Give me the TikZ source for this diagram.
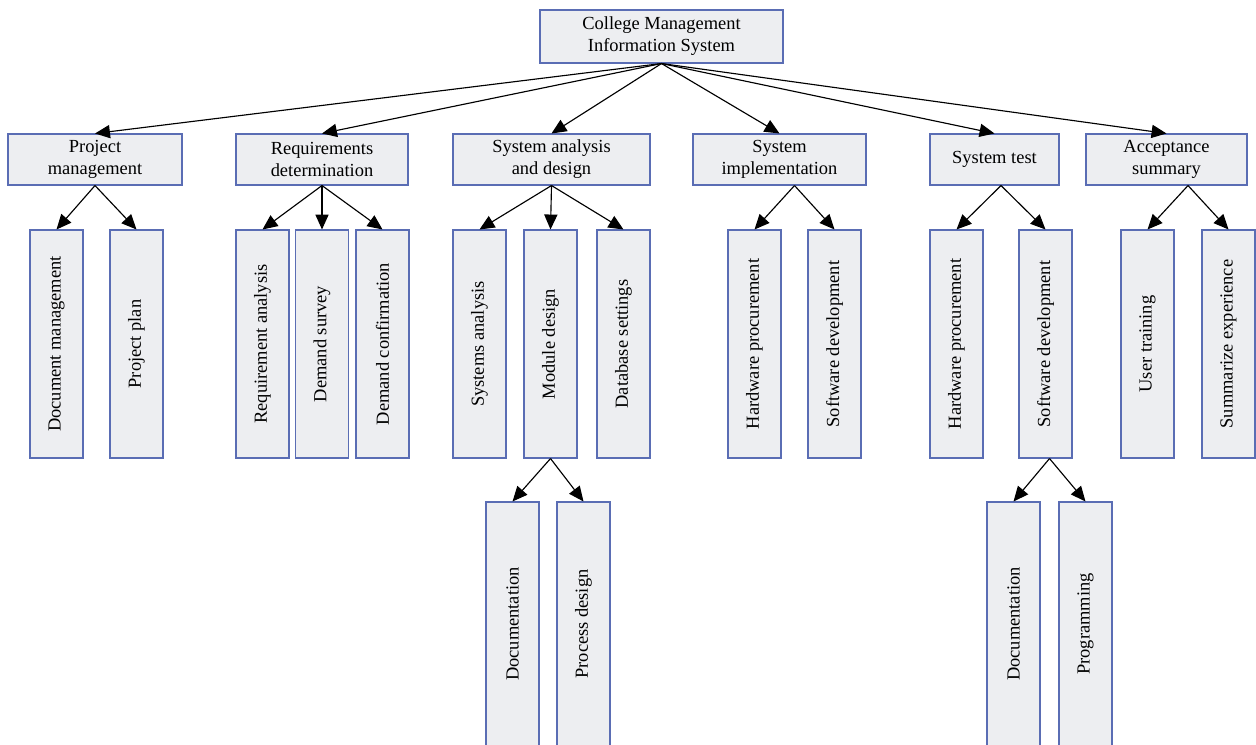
\documentclass[tikz,border=0pt]{standalone}
\usepackage{fontspec}
\setmainfont{Liberation Serif}
\usepackage{xcolor}
\usepackage{tikz}
\usetikzlibrary{shapes.geometric, arrows.meta}
\definecolor{boxline}{HTML}{5A6DB4}
\definecolor{boxfill}{HTML}{EDEEF1}
\tikzstyle{topbox} = [rectangle, minimum height=1.02cm, inner sep=1pt, align=center, text centered, draw=boxline, fill=boxfill, line width=0.6pt, font=\fontsize{10.5}{12.5}\selectfont]
\tikzstyle{leaf} = [rectangle, minimum width=1.06cm, minimum height=4.56cm, inner sep=1pt, text centered, draw=boxline, fill=boxfill, line width=0.6pt, font=\fontsize{10.5}{12.5}\selectfont]
\tikzstyle{subleaf} = [leaf, minimum height=4.88cm]
\tikzstyle{arrow} = [line width=0.65pt, ->, >={Triangle[length=8.5pt,width=7.5pt]}]

\begin{document}
\begin{tikzpicture}[node distance=2.46cm]
\useasboundingbox (0,0) rectangle (25.12,-14.88);
\node (root) [topbox, minimum width=4.86cm, minimum height=1.06cm] at (13.23,-0.73) {College Management\\Information System};

% first level
\node (pm) [topbox, minimum width=3.48cm, below of=root, xshift=-11.33cm] {Project\\management};
\node (rd) [topbox, minimum width=3.44cm, below of=root, xshift=-6.79cm] {Requirements\\determination};
\node (sad) [topbox, minimum width=3.94cm, below of=root, xshift=-2.20cm] {System analysis\\and design};
\node (si) [topbox, minimum width=3.46cm, below of=root, xshift=2.36cm] {System\\implementation};
\node (st) [topbox, minimum width=2.58cm, below of=root, xshift=6.66cm] {System test};
\node (as) [topbox, minimum width=3.22cm, below of=root, xshift=10.10cm] {Acceptance\\summary};

% second level
\node (docman) [leaf, below of=pm, yshift=-1.23cm, xshift=-0.77cm] {\rotatebox{90}{Document management}};
\node (pplan) [leaf, below of=pm, yshift=-1.23cm, xshift=0.83cm] {\rotatebox{90}{Project plan}};
\node (reqan) [leaf, below of=rd, yshift=-1.23cm, xshift=-1.19cm] {\rotatebox{90}{Requirement analysis}};
\node (dsurv) [leaf, below of=rd, yshift=-1.23cm] {\rotatebox{90}{Demand survey}};
\node (dconf) [leaf, below of=rd, yshift=-1.23cm, xshift=1.21cm] {\rotatebox{90}{Demand confirmation}};
\node (sysan) [leaf, below of=sad, yshift=-1.23cm, xshift=-1.44cm] {\rotatebox{90}{Systems analysis}};
\node (moddes) [leaf, below of=sad, yshift=-1.23cm, xshift=-0.02cm] {\rotatebox{90}{Module design}};
\node (dbset) [leaf, below of=sad, yshift=-1.23cm, xshift=1.44cm] {\rotatebox{90}{Database settings}};
\node (hwa) [leaf, below of=si, yshift=-1.23cm, xshift=-0.50cm] {\rotatebox{90}{Hardware procurement}};
\node (swa) [leaf, below of=si, yshift=-1.23cm, xshift=1.10cm] {\rotatebox{90}{Software development}};
\node (hwb) [leaf, below of=st, yshift=-1.23cm, xshift=-0.76cm] {\rotatebox{90}{Hardware procurement}};
\node (swb) [leaf, below of=st, yshift=-1.23cm, xshift=1.02cm] {\rotatebox{90}{Software development}};
\node (utrain) [leaf, below of=as, yshift=-1.23cm, xshift=-0.38cm] {\rotatebox{90}{User training}};
\node (sumexp) [leaf, below of=as, yshift=-1.23cm, xshift=1.24cm] {\rotatebox{90}{Summarize experience}};

% third level
\node (doca) [subleaf, below of=moddes, yshift=-3.14cm, xshift=-0.76cm] {\rotatebox{90}{Documentation}};
\node (pdes) [subleaf, below of=moddes, yshift=-3.14cm, xshift=0.66cm] {\rotatebox{90}{Process design}};
\node (docb) [subleaf, below of=swb, yshift=-3.14cm, xshift=-0.64cm] {\rotatebox{90}{Documentation}};
\node (prog) [subleaf, below of=swb, yshift=-3.14cm, xshift=0.80cm] {\rotatebox{90}{Programming}};

\draw [arrow] (root.south) -- (pm.north);
\draw [arrow] (root.south) -- (rd.north);
\draw [arrow] (root.south) -- (sad.north);
\draw [arrow] (root.south) -- (si.north);
\draw [arrow] (root.south) -- (st.north);
\draw [arrow] (root.south) -- (as.north);
\draw [arrow] (pm.south) -- (docman.north);
\draw [arrow] (pm.south) -- (pplan.north);
\draw [arrow] (rd.south) -- (reqan.north);
\draw [arrow] (rd.south) -- (dsurv.north);
\draw [arrow] (rd.south) -- (dconf.north);
\draw [arrow] (sad.south) -- (sysan.north);
\draw [arrow] (sad.south) -- (moddes.north);
\draw [arrow] (sad.south) -- (dbset.north);
\draw [arrow] ([xshift=0.30cm]si.south) -- (hwa.north);
\draw [arrow] ([xshift=0.30cm]si.south) -- (swa.north);
\draw [arrow] ([xshift=0.13cm]st.south) -- (hwb.north);
\draw [arrow] ([xshift=0.13cm]st.south) -- (swb.north);
\draw [arrow] ([xshift=0.43cm]as.south) -- (utrain.north);
\draw [arrow] ([xshift=0.43cm]as.south) -- (sumexp.north);
\draw [arrow] (moddes.south) -- (doca.north);
\draw [arrow] (moddes.south) -- (pdes.north);
\draw [arrow] ([xshift=0.08cm]swb.south) -- (docb.north);
\draw [arrow] ([xshift=0.08cm]swb.south) -- (prog.north);
\end{tikzpicture}
\end{document}
